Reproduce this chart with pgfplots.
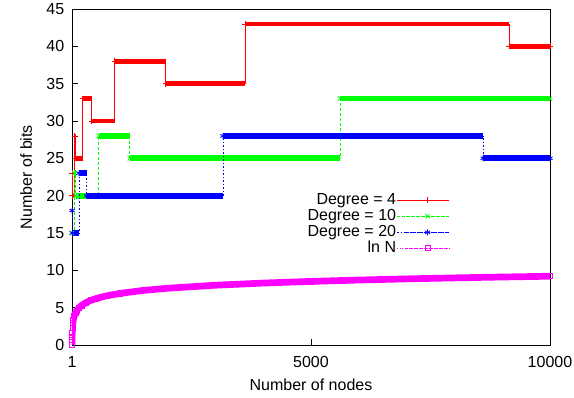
\documentclass[border=0pt]{standalone}
\usepackage{fontspec}
\setmainfont{Liberation Sans}
\usepackage{pgfplots}
\usepackage{pgfplotstable}
\pgfplotsset{compat=1.18}
\definecolor{gpred}{RGB}{255,0,0}
\definecolor{gpgreen}{RGB}{0,255,0}
\definecolor{gpblue}{RGB}{0,0,255}
\definecolor{gpmag}{RGB}{255,0,255}
\pgfplotsset{
  gplegend/.style={legend image code/.code={%
    \path (0pt,0pt) -- (52pt,0pt);
    \draw[##1] (9pt,0pt) -- (52pt,0pt);
    \path[##1] plot[mark repeat=2,mark phase=2] coordinates {(9pt,0pt) (30.5pt,0pt) (52pt,0pt)};}},
}
\pgfplotstableread{
x y
1 23
3 20
56 28
77 25
223 33
411 30
897 38
1960 35
3625 43
9150 40
10000 40
}\degfour
\pgfplotstableread{
x y
1 15
50 23
75 20
563 28
1210 25
5608 33
10000 33
}\degten
\pgfplotstableread{
x y
1 18
5 15
146 23
306 20
3160 28
8600 25
10000 25
}\degtwenty
\pgfplotstableread{
x y
1 0
2 0.693
3 1.099
5 1.609
10 2.303
20 2.996
30 3.401
50 3.912
75 4.317
100 4.605
150 5.011
200 5.298
300 5.704
400 5.991
500 6.215
700 6.551
1000 6.908
1500 7.313
2000 7.601
3000 8.006
4000 8.294
5000 8.517
6000 8.700
7000 8.854
8000 8.987
9000 9.105
10000 9.210
}\lnN
\begin{document}
\begin{tikzpicture}[font=\fontsize{16}{19}\selectfont]
\useasboundingbox (-72pt,-53pt) rectangle (502pt,345pt);
\begin{axis}[
  at={(0pt,0pt)}, anchor=south west,
  scale only axis, width=478pt, height=336pt,
  xmin=1, xmax=10000, ymin=0, ymax=45,
  xtick={1,5000,10000}, xticklabels={1,5000,10000},
  scaled x ticks=false,
  ytick={0,5,10,15,20,25,30,35,40,45},
  tick align=inside, tick pos=left,
  major tick length=6pt,
  axis line style={line width=0.9pt},
  every tick/.style={black, line width=0.8pt},
  /pgf/number format/assume math mode=true,
  yticklabel style={xshift=-4.3pt},
  xticklabel style={anchor=center, yshift=-17pt},
  xlabel={Number of nodes}, ylabel={Number of bits},
  xlabel style={at={(axis description cs:0.5,-0.119)}, anchor=center},
  ylabel style={at={(axis description cs:-0.096,0.5)}, anchor=center},
  legend plot pos=right,
  legend cell align=right,
  legend style={draw=none, fill=none, inner sep=0pt, at={(rel axis cs:0.79,0.455)}, anchor=north east,
    row sep=0pt, font=\fontsize{16}{19}\selectfont,
    nodes={inner sep=0.5pt, text height=11.5pt, text depth=3.5pt}},
  gplegend,
]
% Degree = 4
\addplot[forget plot, jump mark left, gpred, line width=4.7pt] table {\degfour};
\addplot[forget plot, const plot, gpred, line width=0.8pt, mark=+, mark size=3pt] table {\degfour};
% Degree = 10
\addplot[forget plot, jump mark left, gpgreen, line width=5.8pt] table {\degten};
\addplot[forget plot, const plot, gpgreen, line width=0.8pt, dash pattern=on 3pt off 2pt, mark=x, mark size=3pt, mark options={solid}] table {\degten};
% Degree = 20
\addplot[forget plot, jump mark left, gpblue, line width=5.8pt] table {\degtwenty};
\addplot[forget plot, const plot, gpblue, line width=0.8pt, dash pattern=on 1.5pt off 2pt, mark=asterisk, mark size=3pt, mark options={solid}] table {\degtwenty};
% ln N
\addplot[forget plot, gpmag, line width=6.7pt, line join=round] table {\lnN};
\addplot[forget plot, gpmag, line width=0.8pt, dash pattern=on 1pt off 1.5pt, mark=square, mark size=2.5pt, mark options={solid}] table {\lnN};
% legend
\addlegendimage{draw=gpred, color=gpred, line width=0.8pt, mark=+, mark size=3pt}
\addlegendentry{Degree = 4}
\addlegendimage{draw=gpgreen, color=gpgreen, line width=0.8pt, dash pattern=on 3pt off 2pt, mark=x, mark size=3pt, mark options={solid}}
\addlegendentry{Degree = 10}
\addlegendimage{draw=gpblue, color=gpblue, line width=0.8pt, dash pattern=on 1.5pt off 2pt, mark=asterisk, mark size=3pt, mark options={solid}}
\addlegendentry{Degree = 20}
\addlegendimage{draw=gpmag, color=gpmag, line width=0.8pt, dash pattern=on 1pt off 1.5pt, mark=square, mark size=2.5pt, mark options={solid}}
\addlegendentry{ln N}
\end{axis}
\end{tikzpicture}
\end{document}
